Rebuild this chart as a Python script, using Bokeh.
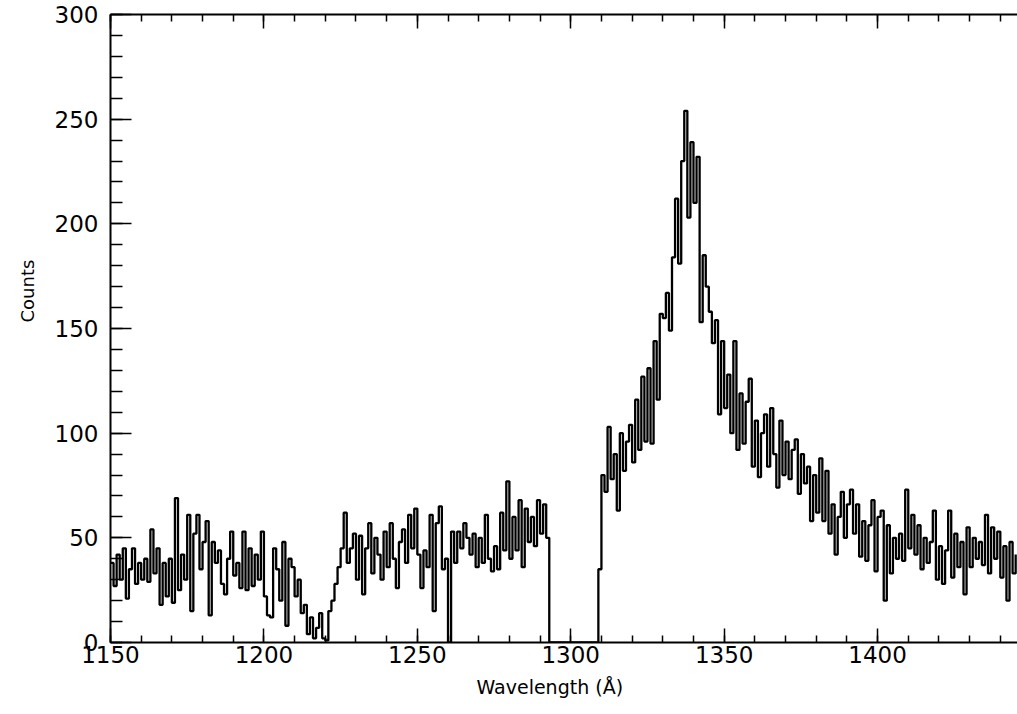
from bokeh.plotting import figure
from bokeh.models import LinearAxis, Range1d, SingleIntervalTicker, ColumnDataSource, Title
from bokeh.embed import file_html
from bokeh.resources import INLINE

# Spectrum: counts per 1 Angstrom bin, starting at 1150 A
wave_start = 1150.0
wave_step = 1.0
counts = [
    38, 27, 42, 30, 45, 21, 35, 45, 28, 38,       # 1150-1159
    30, 40, 29, 54, 33, 45, 18, 38, 22, 40,       # 1160-1169
    19, 69, 25, 42, 30, 61, 15, 52, 61, 35,       # 1170-1179
    48, 58, 13, 48, 38, 44, 28, 23, 40, 53,       # 1180-1189
    32, 38, 26, 53, 25, 45, 27, 42, 30, 53,       # 1190-1199
    22, 13, 12, 45, 35, 20, 48, 8, 40, 36,        # 1200-1209
    22, 30, 14, 18, 4, 12, 2, 7, 14, 2,           # 1210-1219
    1, 15, 20, 28, 36, 45, 62, 38, 45, 52,        # 1220-1229
    30, 51, 23, 45, 57, 33, 50, 42, 30, 53,       # 1230-1239
    36, 57, 40, 26, 48, 54, 38, 61, 45, 64,       # 1240-1249
    42, 26, 44, 36, 61, 15, 57, 65, 35, 40,       # 1250-1259
    0, 53, 38, 53, 45, 57, 50, 42, 52, 36,        # 1260-1269
    50, 38, 61, 40, 34, 46, 35, 62, 44, 77,       # 1270-1279
    40, 60, 44, 68, 36, 64, 48, 60, 46, 68,       # 1280-1289
    52, 66, 50, 0, 0, 0, 0, 0, 0, 0,              # 1290-1299
    0, 0, 0, 0, 0, 0, 0, 0, 0, 35,                # 1300-1309
    80, 72, 103, 78, 90, 63, 100, 82, 96, 104,    # 1310-1319
    86, 116, 92, 127, 96, 131, 95, 144, 116, 157, # 1320-1329
    155, 167, 149, 184, 212, 181, 230, 254, 203, 239,  # 1330-1339
    210, 232, 153, 185, 170, 158, 143, 154, 109, 144,  # 1340-1349
    112, 128, 100, 144, 92, 119, 95, 115, 126, 84,     # 1350-1359
    106, 79, 100, 109, 84, 112, 90, 74, 106, 80,  # 1360-1369
    96, 78, 92, 97, 71, 90, 76, 84, 58, 80,       # 1370-1379
    62, 88, 58, 82, 52, 66, 42, 60, 72, 50,       # 1380-1389
    66, 73, 52, 66, 41, 58, 39, 56, 68, 34,       # 1390-1399
    60, 63, 20, 56, 33, 50, 40, 52, 39, 73,       # 1400-1409
    45, 61, 42, 56, 35, 50, 38, 48, 63, 30,       # 1410-1419
    46, 28, 44, 63, 31, 52, 36, 48, 23, 55,       # 1420-1429
    36, 50, 40, 48, 37, 61, 33, 55, 40, 53,       # 1430-1439
    31, 46, 20, 48, 33, 42,                       # 1440-1445
]
waves = [wave_start + i * wave_step for i in range(len(counts))]

x_label = "Wavelength (Å)"
y_label = "Counts"
x_major_ticks = [1150, 1200, 1250, 1300, 1350, 1400]

FONT = "DejaVu Sans"

p = figure(width=1017, height=714, output_backend="svg", toolbar_location=None,
           x_range=Range1d(1150, 1445.6), y_range=Range1d(0, 300),
           x_axis_location=None, y_axis_location=None,
           min_border_left=109, min_border_right=0, min_border_top=14, min_border_bottom=72)
p.grid.visible = False
p.outline_line_color = None
p.background_fill_color = "white"
p.border_fill_color = "white"

src = ColumnDataSource(dict(x=waves, y=counts))
p.step(x="x", y="y", source=src, mode="after", line_color="black", line_width=2.3)


def style(ax, tick_in, minor_in):
    ax.axis_line_color = "black"
    ax.axis_line_width = 2
    ax.major_tick_in = tick_in
    ax.major_tick_out = 0
    ax.minor_tick_in = minor_in
    ax.minor_tick_out = 0
    ax.major_tick_line_color = "black"
    ax.minor_tick_line_color = "black"
    ax.major_tick_line_width = 1.5
    ax.minor_tick_line_width = 1.5
    ax.major_label_text_font = FONT
    ax.major_label_text_color = "black"
    ax.major_label_text_font_size = "23px"


xb = LinearAxis(ticker=SingleIntervalTicker(interval=50, num_minor_ticks=5))
style(xb, 14, 7)
xb.major_label_standoff = 3
p.add_layout(xb, "below")

xt = LinearAxis(ticker=SingleIntervalTicker(interval=50, num_minor_ticks=5))
style(xt, 14, 7)
xt.major_label_overrides = {t: "" for t in x_major_ticks}
xt.major_label_standoff = 0
p.add_layout(xt, "above")

yl = LinearAxis(ticker=SingleIntervalTicker(interval=50, num_minor_ticks=5))
style(yl, 21, 12)
yl.major_label_standoff = 12
p.add_layout(yl, "left")

# Axis titles as side titles, placed where the reference puts them
xt_title = Title(text=x_label, align="left", offset=366, standoff=16,
                 text_font=FONT, text_font_size="19px", text_font_style="normal",
                 text_color="black")
p.add_layout(xt_title, "below")
yl_title = Title(text=y_label, align="left", offset=320, standoff=28,
                 text_font=FONT, text_font_size="18px", text_font_style="normal",
                 text_color="black")
p.add_layout(yl_title, "left")

open("out.html", "w").write(file_html(p, INLINE))
